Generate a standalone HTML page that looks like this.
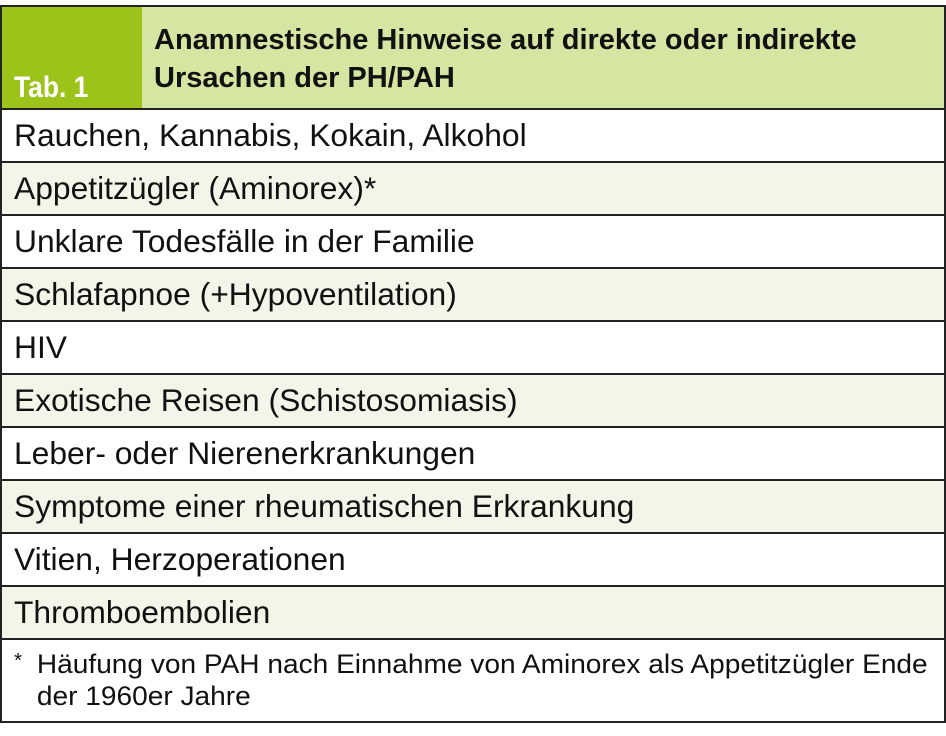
<!DOCTYPE html>
<html><head><meta charset="utf-8"><style>
body{margin:0;width:946px;height:736px;background:#fff;font-family:"Liberation Sans",sans-serif;color:#111;position:relative;overflow:hidden}
.b{position:absolute;box-sizing:border-box}
.row{position:absolute;left:0;width:946px;height:55px;box-sizing:border-box;border:2px solid #222;font-size:31.8px;padding-left:12px;line-height:50px;white-space:nowrap}
</style></head><body>
<div class="b" style="left:0;top:5px;width:946px;height:105px;border:2px solid #222;background:#d5e5a2"></div>
<div class="b" style="left:2px;top:7px;width:140px;height:101px;background:#9cc31a"></div>
<div class="b" style="left:14px;top:68px;color:#fff;font-weight:bold;font-size:30px;line-height:40px;transform:scaleX(0.88);transform-origin:left">Tab. 1</div>
<div class="b" style="left:154px;top:21px;font-weight:bold;font-size:29px;line-height:38px;white-space:nowrap">Anamnestische Hinweise auf direkte oder indirekte<br>Ursachen der PH/PAH</div>
<div class="row" style="top:108px;background:#fff">Rauchen, Kannabis, Kokain, Alkohol</div>
<div class="row" style="top:161px;background:#f2f6e8">Appetitzügler (Aminorex)*</div>
<div class="row" style="top:214px;background:#fff">Unklare Todesfälle in der Familie</div>
<div class="row" style="top:267px;background:#f2f6e8">Schlafapnoe (+Hypoventilation)</div>
<div class="row" style="top:320px;background:#fff">HIV</div>
<div class="row" style="top:373px;background:#f2f6e8">Exotische Reisen (Schistosomiasis)</div>
<div class="row" style="top:426px;background:#fff">Leber- oder Nierenerkrankungen</div>
<div class="row" style="top:479px;background:#f2f6e8">Symptome einer rheumatischen Erkrankung</div>
<div class="row" style="top:532px;background:#fff">Vitien, Herzoperationen</div>
<div class="row" style="top:585px;background:#f2f6e8">Thromboembolien</div>
<div class="b" style="left:0;top:638px;width:946px;height:85px;border:2px solid #222;background:#fff;font-size:27px;line-height:32px;padding:8px 0 0 12px">
<div style="position:relative;padding-left:22px;transform:scaleX(1.04);transform-origin:left;white-space:nowrap"><span style="position:absolute;left:0;top:-3px;font-size:20px">*</span>Häufung von PAH nach Einnahme von Aminorex als Appetitzügler Ende<br>der 1960er Jahre</div>
</div>
</body></html>
